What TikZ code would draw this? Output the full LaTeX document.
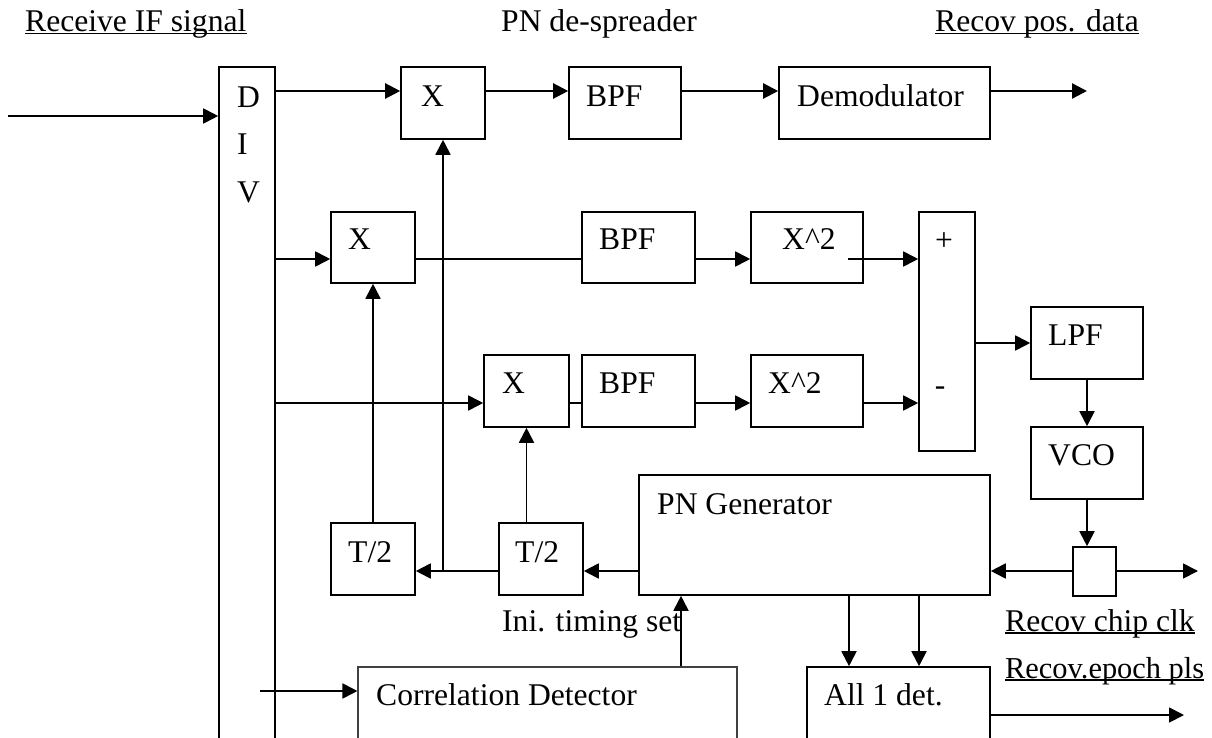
\documentclass[tikz,border=0pt]{standalone}
\usepackage{fontspec}
\setmainfont{Liberation Serif}
\usetikzlibrary{arrows.meta}
\begin{document}
\begin{tikzpicture}[x=1pt,y=-1pt,
  blk/.style={draw=black, line width=1.6pt, inner sep=0pt},
  thinblk/.style={draw=black!75, line width=1.1pt, inner sep=0pt},
  wire/.style={line width=1.8pt},
  arr/.style={wire, -{Triangle[length=15pt,width=15pt]}},
  lbl/.style={anchor=base west, inner sep=0pt, font=\fontsize{31.6}{36}\selectfont},
  ul/.style={line width=1.8pt}
]
\useasboundingbox (0,0) rectangle (1212,738);
\clip (0,0) rectangle (1212,738);
\fill[white] (0,0) rectangle (1212,738);

% headings
\node[lbl] (hin)  at (25,31.5)  {Receive IF signal};
\node[lbl] (hpn)  at (501,31.5) {PN de-spreader};
\node[lbl] (hout) at (935,31.5) {Recov pos. data};
\draw[ul] ([yshift=-2pt]hin.base west) -- ([yshift=-2pt]hin.base east);
\draw[ul] ([yshift=-2pt]hout.base west) -- ([yshift=-2pt]hout.base east);

% blocks
\node[blk, minimum width=56pt,  minimum height=733pt] (div)   at (247,433.5) {};
\node[blk, minimum width=84pt,  minimum height=72pt]  (x1)    at (443,103) {};
\node[blk, minimum width=112pt, minimum height=72pt]  (bpf1)  at (625,103) {};
\node[blk, minimum width=211pt, minimum height=72pt]  (demod) at (884.5,103) {};
\node[blk, minimum width=84pt,  minimum height=71pt]  (x2)    at (373,247.5) {};
\node[blk, minimum width=113pt, minimum height=71pt]  (bpf2)  at (638.5,247.5) {};
\node[blk, minimum width=112pt, minimum height=71pt]  (sq2)   at (807,247.5) {};
\node[blk, minimum width=56pt,  minimum height=239pt] (add)   at (947,331.5) {};
\node[blk, minimum width=85pt,  minimum height=72pt]  (x3)    at (526.5,391) {};
\node[blk, minimum width=113pt, minimum height=72pt]  (bpf3)  at (638.5,391) {};
\node[blk, minimum width=112pt, minimum height=72pt]  (sq3)   at (807,391) {};
\node[blk, minimum width=112pt, minimum height=72pt]  (lpf)   at (1087,343) {};
\node[blk, minimum width=112pt, minimum height=72pt]  (vco)   at (1087,463) {};
\node[blk, minimum width=43pt,  minimum height=49pt]  (clk)   at (1094.5,571.5) {};
\node[blk, minimum width=351pt, minimum height=120pt] (pn)    at (814.5,535) {};
\node[blk, minimum width=84pt,  minimum height=72pt]  (t2a)   at (373,559) {};
\node[blk, minimum width=84pt,  minimum height=72pt]  (t2b)   at (541,559) {};
\node[thinblk, minimum width=379pt, minimum height=133pt] (corr) at (547.5,733.5) {};
\node[blk, minimum width=183pt, minimum height=133pt] (all1)  at (898.5,733.5) {};

% block texts
\node[lbl] (td) at (237,107.5) {D};
\node[lbl] (ti) at (237,155) {I};
\node[lbl] (tv) at (237,202.5) {V};
\node[lbl] (tx1) at (421,107) {X};
\node[lbl] (tb1) at (586,107) {BPF};
\node[lbl] (tdm) at (797,107) {Demodulator};
\node[lbl] (tx2) at (348,249) {X};
\node[lbl] (tb2) at (599,249) {BPF};
\node[lbl] (ts2) at (782,249) {X\textasciicircum 2};
\node[lbl, anchor=base] (tplus) at (944,250) {+};
\node[lbl] (tx3) at (502,393) {X};
\node[lbl] (tb3) at (599,393) {BPF};
\node[lbl] (ts3) at (768,393) {X\textasciicircum 2};
\node[lbl, anchor=base] (tminus) at (940,395) {-};
\node[lbl] (tlpf) at (1048,345) {LPF};
\node[lbl] (tvco) at (1048,465) {VCO};
\node[lbl] (tta) at (348,562) {T/2};
\node[lbl] (ttb) at (515,562) {T/2};
\node[lbl] (tpn) at (657,514) {PN Generator};
\node[lbl] (tini) at (502,631) {Ini. timing set};
\node[lbl] (tcor) at (376,705) {Correlation Detector};
\node[lbl] (tall) at (824,705) {All 1 det.};
\node[lbl] (tchip) at (1005,631) {Recov chip clk};
\node[lbl, font=\fontsize{30.4}{36}\selectfont] (tepo) at (1005,678) {Recov.epoch pls};
\draw[ul] ([yshift=-2pt]tchip.base west) -- ([yshift=-2pt]tchip.base east);
\draw[ul] ([yshift=-2pt]tepo.base west) -- ([yshift=-2pt]tepo.base east);

% free ends and row levels
\coordinate (inp) at (8,116);
\coordinate (r1) at (0,91);
\coordinate (r2) at (0,259);
\coordinate (r3) at (0,403);
\coordinate (rt) at (0,571);
\coordinate (sq2o) at (848,259);
\coordinate (dout) at (1087,91);
\coordinate (cout) at (1198,571);
\coordinate (aout) at (1184,715);
\coordinate (cin) at (260,691);
\coordinate (tap1) at (681,0);
\coordinate (tapa) at (849,0);
\coordinate (tapb) at (919,0);

% PN de-spreader path
\draw[arr] (inp) -- (inp -| div.west);
\draw[arr, line width=2.3pt] (div.east |- r1) -- (x1.west |- r1);
\draw[arr, line width=2.3pt] (x1.east |- r1) -- (bpf1.west |- r1);
\draw[arr, line width=2.3pt] (bpf1.east |- r1) -- (demod.west |- r1);
\draw[arr, line width=2.3pt] (demod.east |- r1) -- (dout);

% early / late correlator arms
\draw[arr] (div.east |- r2) -- (x2.west |- r2);
\draw[wire] (x2.east |- r2) -- (bpf2.west |- r2);
\draw[arr] (bpf2.east |- r2) -- (sq2.west |- r2);
\draw[arr] (sq2o) -- (add.west |- sq2o);
\draw[arr] (div.east |- r3) -- (x3.west |- r3);
\draw[wire] (x3.east |- r3) -- (bpf3.west |- r3);
\draw[arr] (bpf3.east |- r3) -- (sq3.west |- r3);
\draw[arr] (sq3.east |- r3) -- (add.west |- r3);

% loop filter and clock
\draw[arr] (add.east |- lpf.west) -- (lpf.west);
\draw[arr] (lpf.south) -- (vco.north);
\draw[arr] (vco.south) -- (vco.south |- clk.north);
\draw[arr] (clk.west |- rt) -- (pn.east |- rt);
\draw[arr] (clk.east |- rt) -- (cout);

% PN code distribution
\draw[arr] (pn.west |- rt) -- (t2b.east |- rt);
\draw[arr] (t2b.west |- rt) -- (t2a.east |- rt);
\draw[arr] (x1.south |- rt) -- (x1.south);
\draw[arr] (t2a.north) -- (x2.south);
\draw[arr] (x3.south |- t2b.north) -- (x3.south);

% acquisition and epoch detection
\draw[arr] (cin) -- (cin -| corr.west);
\draw[arr] (tap1 |- corr.north) -- (tap1 |- pn.south);
\draw[arr] (tapa |- pn.south) -- (tapa |- all1.north);
\draw[arr] (tapb |- pn.south) -- (tapb |- all1.north);
\draw[arr] (all1.east |- aout) -- (aout);
\end{tikzpicture}
\end{document}
